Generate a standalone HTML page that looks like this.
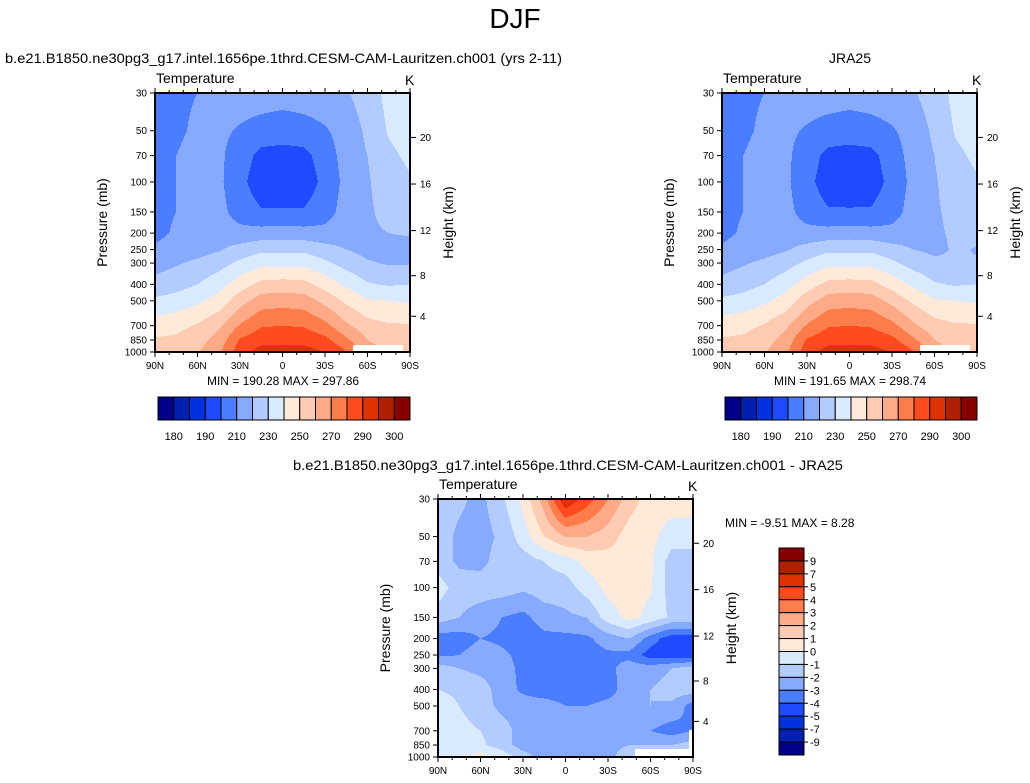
<!DOCTYPE html>
<html><head><meta charset="utf-8"><style>
html,body{margin:0;padding:0;background:#fff;}
svg{display:block;font-family:"Liberation Sans",Arial,sans-serif;}
</style></head><body>
<svg id="root" width="1030" height="783" viewBox="0 0 1030 783" xmlns="http://www.w3.org/2000/svg">
<text x="515" y="28" font-size="28" text-anchor="middle">DJF</text>
<text x="5" y="63" font-size="14" textLength="557" lengthAdjust="spacingAndGlyphs">b.e21.B1850.ne30pg3_g17.intel.1656pe.1thrd.CESM-CAM-Lauritzen.ch001 (yrs 2-11)</text>
<text x="850" y="63" font-size="14" text-anchor="middle">JRA25</text>
<text x="293" y="470" font-size="14" textLength="550" lengthAdjust="spacingAndGlyphs">b.e21.B1850.ne30pg3_g17.intel.1656pe.1thrd.CESM-CAM-Lauritzen.ch001 - JRA25</text>
<g id="p1"></g>
<g id="p2"></g>
<g id="p3"></g>
</svg>
<script>
const lats=[-90,-75,-60,-45,-30,-15,0,15,30,45,60,75,90];
const plev=[30,50,70,100,150,200,250,300,400,500,700,850,1000];
const modelT=[
[204,209,210,213,215,215,214,215,216,219,225,233,236],
[207,209,211,212,209,206,205,206,209,214,222,231,234],
[208,210,212,212,205,197,196,197,205,214,220,228,232],
[208,210,212,212,203,194,193,194,203,213,219,225,229],
[208,210,212,213,206,201,201,201,206,214,219,222,225],
[208,211,213,214,213,214,215,214,213,215,219,220,220.5],
[211,214,216,219,224,228,228,228,224,220,217,218,218],
[216,219,222,226,232,237,237,237,232,226,221,219,219],
[223,226,230,236,245,253,254,253,246,238,231,229,230],
[232,234,238,244,256,265,266,265,257,248,241,240,239],
[245,247,251,258,271,279,280,279,273,262,254,251,251],
[251,252,256,264,281,287,287,287,283,272,260,255,254],
[256,256,259,268,286,294,295,294,290,281,266,258,256]];
const obsT=[
[205,209,210,213,215,215,214,215,216,219,225,233,236],
[207,209,211,212,209,206,205,206,209,214,222,231,234],
[208,210,212,212,205,197,196,197,205,214,220,228,232],
[208,210,212,212,203,195,194,195,203,213,219,225,229],
[208,210,212,213,206,201,201,201,206,214,219,222,225],
[208,211,213,214,213,214,215,214,213,215,219,221,222],
[211,214,216,219,224,228,228,228,224,220,218,221,219.5],
[216,219,222,226,232,237,237,237,232,226,222,221,220.5],
[223,226,230,236,245,253,254,253,246,238,231,229,230],
[232,234,238,244,256,265,266,265,257,248,241,240,239],
[245,247,251,258,271,279,280,279,273,262,254,251,251],
[251,252,256,264,281,287,287,287,283,272,260,255,254],
[256,256,259,268,286,294,295,294,290,281,266,258,256]];
const diffT=[
[-1.5,-1.8,-2.3,-1.2,0.3,2.5,6,4.5,3,1.5,0.5,0.5,0.5],
[-1.5,-2.2,-2.4,-1.8,-0.5,1,2,2,1.5,0.5,0.3,-0.5,-0.5],
[-1.5,-2.2,-2.3,-1.5,-1.5,-1,-0.5,0.3,0.5,0.5,0.2,-1.5,-1.5],
[-0.5,-1.5,-1.5,-1.5,-1.8,-1.5,-1.5,-0.5,0.3,0.5,0.1,-1.5,-1.5],
[-1.5,-2,-2.5,-3,-3.3,-2.5,-2.2,-2,-0.5,0.3,-0.3,-1.2,-1.2],
[-3.5,-3.5,-3,-3.2,-3.7,-3.3,-3.3,-3.2,-2.5,-2,-3.5,-4.6,-4.6],
[-3.2,-3,-2.5,-2.8,-3.3,-3.6,-3.6,-3.5,-3.2,-3.3,-4.5,-4.7,-4.7],
[-1.5,-2,-2.3,-2.5,-3.3,-3.6,-3.6,-3.6,-3.3,-2.5,-2.5,-2,-1.5],
[-1,-1.2,-1.5,-2.5,-3.2,-3.6,-3.6,-3.6,-3.4,-2.5,-2,-1.5,-1.5],
[-0.5,-1,-1.5,-2.3,-2.5,-2.5,-3,-3,-2.7,-2.5,-2,-2.2,-3.5],
[-0.5,-0.7,-1,-1.5,-2.5,-2.5,-2.5,-2.7,-3,-2.8,-3,-3.5,-3],
[-0.5,-0.5,-0.8,-1.5,-2.5,-2.5,-2.5,-2.5,-2.5,-2,-2,-2,-1.5],
[-0.5,-0.5,0.5,-0.3,-1.5,-2.5,-2.5,-2.5,-2.5,-1,-0.5,-0.5,-0.5]];
const tLevels=[180,185,190,200,210,220,230,240,250,260,270,280,290,295,300];
const tLabels=["180","190","210","230","250","270","290","300"];
const dLevels=[-9,-7,-5,-4,-3,-2,-1,0,1,2,3,4,5,7,9];
const colors=["#00008a","#0020b0","#0032e0","#1e4bff","#4a7dff","#86aaff","#b3ccff","#d9eaff","#ffe9d9","#ffcbb3","#ffaa86","#ff7d4a","#ff4b1e","#e03200","#b02000","#8a0000"];
const xTicks=["90N","60N","30N","0","30S","60S","90S"];
const kmTicks=[4,8,12,16,20];
const NS="http://www.w3.org/2000/svg";
function mk(tag,attrs,parent){const e=document.createElementNS(NS,tag);for(const k in attrs)e.setAttribute(k,attrs[k]);if(parent)parent.appendChild(e);return e;}
function levelIndex(v,levels){let i=0;while(i<levels.length&&v>=levels[i])i++;return i;}
function yOfP(p,y0,h){return y0+h*Math.log(p/30)/Math.log(1000/30);}
function xOfLat(lat,x0,w){return x0+w*(lat+90)/180;}
function kmToP(z){z*=1000;if(z<=11000)return 1013.25*Math.pow(1-2.25577e-5*z,5.25588);return 226.32*Math.exp(-(z-11000)/6341.6);}
function drawField(g,x0,y0,w,h,grid,levels){
  const lnp=plev.map(Math.log);
  for(let py=0;py<h;py++){
    const p=30*Math.pow(1000/30,(py+0.5)/h);const lp=Math.log(p);
    let k=0;while(k<plev.length-2&&lp>lnp[k+1])k++;
    const t=Math.min(1,Math.max(0,(lp-lnp[k])/(lnp[k+1]-lnp[k])));
    const row=grid[k].map((v,j)=>v*(1-t)+grid[k+1][j]*t);
    let runStart=0,runIdx=-1;
    for(let px=0;px<=w;px++){
      let idx=-2;
      if(px<w){const lat=-90+180*(px+0.5)/w;let j=Math.min(lats.length-2,Math.floor((lat+90)/15));const s=(lat-lats[j])/15;const v=row[j]*(1-s)+row[j+1]*s;idx=levelIndex(v,levels);}
      if(idx!==runIdx){
        if(runIdx>=0){const r=mk('rect',{x:x0+runStart,y:y0+py,width:px-runStart,height:1.3,fill:colors[runIdx]},g);
          
          }
        runStart=px;runIdx=idx;
      }
    }
  }
}
function missing(g,x,y,w,h){const r=mk('rect',{x:x,y:y,width:w,height:h,fill:'#fff'},g);
  
  }
function drawAxes(g,x0,y0,w,h,pxLabel,kmLabelX){
  mk('rect',{x:x0,y:y0,width:w,height:h,fill:'none',stroke:'#000','stroke-width':2},g);
  for(let lat=-90;lat<=90;lat+=10){const x=xOfLat(lat,x0,w);const L=(lat%30===0)?5:3;
    mk('line',{x1:x,y1:y0+h,x2:x,y2:y0+h+L,stroke:'#000','stroke-width':1},g);
    mk('line',{x1:x,y1:y0,x2:x,y2:y0-L,stroke:'#000','stroke-width':1},g);}
  xTicks.forEach((s,i)=>{const t=mk('text',{x:x0+w*i/(xTicks.length-1),y:y0+h+17,'font-size':10,'text-anchor':'middle'},g);t.textContent=s;
    
    });
  plev.forEach(p=>{const y=yOfP(p,y0,h);mk('line',{x1:x0-5,y1:y,x2:x0,y2:y,stroke:'#000'},g);
    const t=mk('text',{x:x0-8,y:y+3.5,'font-size':10,'text-anchor':'end'},g);t.textContent=p;
    
    });
  kmTicks.forEach(z=>{const y=yOfP(kmToP(z),y0,h);mk('line',{x1:x0+w,y1:y,x2:x0+w+6,y2:y,stroke:'#000'},g);
    const t=mk('text',{x:x0+w+10,y:y+3.5,'font-size':10},g);t.textContent=z;
    
    });
  let t=mk('text',{x:x0+1,y:y0-10,'font-size':14},g);t.textContent='Temperature';
  
  
  t=mk('text',{x:x0+w-5,y:y0-8,'font-size':14},g);t.textContent='K';
  
  
  t=mk('text',{x:pxLabel,y:y0+h/2,'font-size':14,'text-anchor':'middle',transform:`rotate(-90 ${pxLabel} ${y0+h/2})`},g);t.textContent='Pressure (mb)';
  
  
  t=mk('text',{x:kmLabelX,y:y0+h/2,'font-size':14,'text-anchor':'middle',transform:`rotate(-90 ${kmLabelX} ${y0+h/2})`},g);t.textContent='Height (km)';
  
  
}
function hColorbar(g,x0,y0,w,h){
  const bw=w/colors.length;
  colors.forEach((c,i)=>{const r=mk('rect',{x:x0+i*bw,y:y0,width:bw,height:h,fill:c,stroke:'#000','stroke-width':1},g);
    
    });
  const bIdx=[1,3,5,7,9,11,13,15];
  tLabels.forEach((s,i)=>{const t=mk('text',{x:x0+bIdx[i]*bw,y:y0+h+20,'font-size':11,'text-anchor':'middle'},g);t.textContent=s;
    
    });
}
function panel(id,x0,y0,grid,levels){
  const g=document.getElementById(id);
  const f=mk('g',{},g);f.setAttribute('shape-rendering','crispEdges');
  drawField(f,x0,y0,255,259,grid,levels);
  missing(f,x0+198,y0+252,50,7);
  drawAxes(g,x0,y0,255,259,x0-48,x0+298);
  return g;
}
const g1=panel('p1',155,93,modelT,tLevels);
let t=mk('text',{x:283,y:385,'font-size':12,'text-anchor':'middle'},g1);t.setAttribute('xml:space','preserve');t.textContent='MIN = 190.28  MAX = 297.86';


hColorbar(g1,158,397,252,23);
const g2=panel('p2',722,93,obsT,tLevels);
t=mk('text',{x:850,y:385,'font-size':12,'text-anchor':'middle'},g2);t.setAttribute('xml:space','preserve');t.textContent='MIN = 191.65  MAX = 298.74';


hColorbar(g2,725,397,252,23);
const g3=document.getElementById('p3');
const f3=mk('g',{'shape-rendering':'crispEdges'},g3);
drawField(f3,438,499,255,258,diffT,dLevels);
missing(f3,635,749,58,8);
missing(f3,689,730,4,27);
drawAxes(g3,438,499,255,258,390,736);
t=mk('text',{x:725,y:527,'font-size':12},g3);t.setAttribute('xml:space','preserve');t.textContent='MIN =  -9.51  MAX =   8.28';


(function(){const x0=779,y0=548,w=25,h=207,bh=h/colors.length;
  colors.slice().reverse().forEach((c,i)=>{const r=mk('rect',{x:x0,y:y0+i*bh,width:w,height:bh,fill:c,stroke:'#000','stroke-width':1},g3);
    
    });
  dLevels.slice().reverse().forEach((v,i)=>{const y=y0+(i+1)*bh;mk('line',{x1:x0+w,y1:y,x2:x0+w+4,y2:y,stroke:'#000'},g3);
    const tt=mk('text',{x:x0+w+6,y:y+4,'font-size':11},g3);tt.textContent=v;
    
    });
})();
</script>
</body></html>
